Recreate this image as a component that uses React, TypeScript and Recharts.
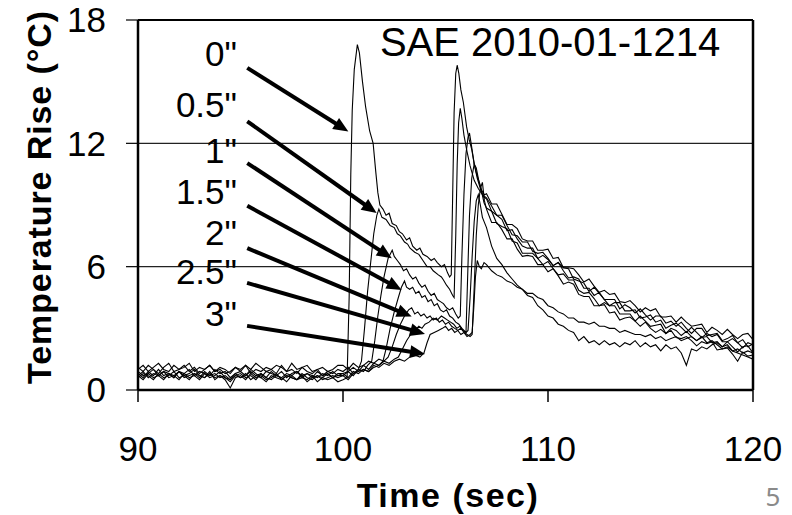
import React from 'react';
import {
  LineChart,
  Line,
  XAxis,
  YAxis,
  CartesianGrid,
  ReferenceLine,
  ReferenceDot,
} from 'recharts';

// distance of each thermocouple from the surface
const distances = ['0"', '0.5"', '1"', '1.5"', '2"', '2.5"', '3"'];

const xTicks = [90, 100, 110, 120];
const yTicks = [0, 6, 12, 18];

// pre-ignition baseline, shared sample times
const baseTimes = [
  90, 90.25, 90.5, 90.75, 91, 91.25, 91.5, 91.75, 92, 92.25,
  92.5, 92.75, 93, 93.25, 93.5, 93.75, 94, 94.25, 94.5, 94.75,
  95, 95.25, 95.5, 95.75, 96, 96.25, 96.5, 96.75, 97, 97.25,
  97.5, 97.75, 98, 98.25, 98.5, 98.75, 99, 99.25, 99.5, 99.75,
];

const base0 = [0.8,0.6,0.9,0.7,1.0,0.7,0.8,0.6,0.9,0.7,0.8,1.0,0.7,0.6,0.9,0.5,0.7,0.6,0.4,0.7,0.8,0.6,0.7,0.5,0.8,0.6,0.5,0.7,0.6,0.4,0.7,0.5,0.6,0.5,0.7,0.4,0.6,0.5,0.6,0.4];
const base1 = [1.1,0.9,1.2,1.0,0.8,1.1,1.3,0.9,1.0,1.2,0.9,1.1,0.8,1.0,1.2,0.9,1.0,0.8,0.9,1.1,1.0,1.2,0.8,1.0,0.9,1.1,1.0,0.8,1.2,0.9,1.0,0.8,1.1,0.9,0.8,1.0,0.7,0.9,0.8,1.0];
const base2 = [0.7,0.5,0.8,0.6,0.7,0.9,0.6,0.7,0.5,0.8,0.6,0.7,0.5,0.8,0.6,0.7,0.9,0.6,0.5,0.7,0.6,0.8,0.5,0.7,0.6,0.4,0.7,0.6,0.5,0.7,0.6,0.5,0.8,0.6,0.5,0.7,0.6,0.8,0.6,0.7];
const base3 = [0.6,0.8,0.7,0.5,0.8,0.6,0.7,0.9,0.6,0.7,0.5,0.8,0.7,0.6,0.8,0.6,0.7,0.5,0.1,0.6,0.7,0.5,0.8,0.6,0.7,0.5,0.6,0.8,0.5,0.7,0.6,0.5,0.7,0.4,0.6,0.7,0.5,0.6,0.7,0.6];
const base4 = [1.0,1.2,0.9,1.1,1.3,1.0,0.9,1.2,1.0,1.1,1.3,0.9,1.1,1.0,1.2,0.9,1.1,1.0,0.8,1.1,0.9,1.2,1.0,1.3,1.1,0.9,1.0,1.2,1.1,0.9,1.3,1.0,1.1,1.2,0.9,1.0,1.1,0.9,1.0,1.2];
const base5 = [0.9,0.7,0.8,1.0,0.7,0.9,0.8,0.6,0.9,0.8,1.0,0.7,0.9,0.8,0.7,1.0,0.8,0.9,0.6,0.8,0.9,0.7,1.0,0.8,0.6,0.9,0.8,0.7,0.9,0.6,0.8,0.9,0.7,0.8,0.6,0.9,0.7,0.8,0.6,0.8];
const base6 = [0.7,0.9,0.6,0.8,0.7,0.5,0.8,0.7,0.9,0.6,0.7,0.8,0.6,0.9,0.7,0.8,0.6,0.7,0.5,0.8,0.6,0.7,0.9,0.7,0.8,0.6,0.9,0.7,0.6,0.8,0.7,0.9,0.6,0.8,0.7,0.6,0.8,0.7,0.9,0.7];

// the two flame passages, 100 - 107 s  [time, rise]
const event0: [number, number][] = [[100,0.5],[100.2,0.6],[100.3,4.5],[100.38,10.5],[100.45,13.6],[100.55,15.6],[100.7,16.8],[100.8,16.4],[100.95,15.0],[101.1,13.8],[101.3,12.6],[101.47,12.0],[101.6,10.6],[101.7,9.6],[101.8,9.0],[101.95,8.8],[102.1,8.5],[102.25,8.6],[102.4,8.1],[102.6,8.0],[102.75,7.7],[102.9,7.6],[103.1,7.3],[103.25,7.4],[103.4,7.0],[103.6,6.8],[103.75,6.9],[103.9,6.6],[104.1,6.5],[104.3,6.3],[104.45,6.4],[104.6,6.2],[104.8,6.0],[104.95,6.1],[105.1,5.7],[105.2,5.5],[105.28,5.6],[105.35,9.5],[105.42,13.5],[105.5,15.4],[105.57,15.8],[105.65,15.4],[105.75,14.6],[105.87,14.0],[106.03,12.8],[106.15,12.2],[106.28,11.7],[106.4,11.0],[106.52,10.5],[106.65,10.1],[106.77,9.7],[106.9,9.5]];
const event1: [number, number][] = [[100,0.9],[100.25,1.1],[100.5,0.8],[100.75,1.0],[100.9,1.4],[101.05,3.0],[101.2,4.8],[101.35,6.2],[101.5,7.6],[101.65,8.5],[101.75,8.8],[101.9,8.4],[102.1,8.3],[102.3,8.0],[102.5,7.9],[102.65,7.6],[102.8,7.5],[103.0,7.2],[103.15,7.1],[103.27,6.9],[103.5,6.7],[103.7,6.6],[103.9,6.3],[104.1,6.0],[104.25,6.0],[104.4,5.8],[104.65,5.6],[104.8,5.5],[104.9,5.35],[105.05,5.1],[105.2,4.9],[105.35,4.6],[105.42,4.5],[105.5,7.5],[105.57,11.0],[105.64,13.0],[105.72,13.7],[105.8,13.2],[105.9,12.4],[106.05,11.6],[106.2,10.9],[106.4,10.2],[106.6,9.8],[106.8,9.5]];
const event2: [number, number][] = [[100,0.7],[100.25,0.9],[100.5,0.7],[100.75,1.0],[101.0,0.9],[101.2,1.2],[101.4,1.4],[101.55,2.4],[101.7,3.6],[101.85,4.6],[102.0,5.5],[102.2,6.4],[102.4,6.8],[102.5,6.5],[102.65,6.3],[102.8,6.1],[102.95,5.8],[103.1,5.9],[103.25,5.6],[103.4,5.4],[103.55,5.5],[103.7,5.2],[103.85,5.0],[104.0,5.1],[104.15,4.8],[104.3,4.6],[104.45,4.7],[104.6,4.4],[104.75,4.3],[104.9,4.2],[105.05,4.0],[105.2,3.9],[105.35,4.0],[105.5,3.7],[105.62,3.5],[105.72,3.6],[105.8,6.5],[105.9,9.5],[106.0,11.5],[106.1,12.3],[106.17,12.5],[106.25,12.0],[106.4,11.0],[106.55,10.3],[106.7,9.8],[106.85,9.4]];
const event3: [number, number][] = [[100,0.7],[100.25,0.5],[100.5,0.8],[100.75,0.9],[101.0,1.0],[101.25,0.9],[101.5,1.1],[101.75,1.2],[101.95,1.4],[102.1,2.0],[102.3,3.0],[102.5,3.8],[102.7,4.5],[102.85,5.0],[103.0,5.3],[103.1,5.0],[103.25,4.9],[103.4,5.0],[103.55,4.7],[103.7,4.8],[103.85,4.5],[104.0,4.6],[104.15,4.3],[104.3,4.4],[104.45,4.1],[104.6,4.2],[104.75,3.9],[104.9,3.8],[105.05,3.9],[105.2,3.6],[105.35,3.5],[105.5,3.3],[105.65,3.2],[105.8,3.0],[105.9,2.9],[106.0,2.8],[106.08,5.5],[106.17,8.5],[106.28,10.3],[106.4,11.0],[106.5,10.8],[106.62,10.2],[106.75,9.7],[106.88,9.1]];
const event4: [number, number][] = [[100,1.2],[100.25,1.0],[100.5,1.3],[100.75,1.1],[101.0,1.2],[101.25,1.4],[101.5,1.3],[101.75,1.5],[102.0,1.4],[102.2,1.6],[102.4,2.1],[102.6,2.7],[102.8,3.2],[103.0,3.6],[103.2,3.9],[103.35,4.0],[103.5,3.7],[103.65,3.8],[103.8,3.6],[103.95,3.7],[104.1,3.5],[104.25,3.6],[104.4,3.4],[104.55,3.5],[104.7,3.3],[104.85,3.4],[105.0,3.2],[105.15,3.3],[105.3,3.1],[105.45,3.0],[105.6,2.9],[105.75,3.0],[105.9,2.8],[106.05,2.7],[106.2,2.6],[106.3,2.7],[106.4,5.0],[106.5,7.5],[106.6,9.0],[106.7,9.8],[106.8,10.1],[106.9,9.2]];
const event5: [number, number][] = [[100,0.8],[100.25,0.9],[100.5,1.1],[100.75,0.9],[101.0,1.2],[101.25,1.0],[101.5,1.3],[101.75,1.2],[102.0,1.4],[102.25,1.3],[102.5,1.5],[102.7,1.6],[102.9,2.0],[103.1,2.4],[103.3,2.7],[103.5,2.9],[103.7,3.1],[103.85,3.0],[104.0,3.2],[104.2,3.3],[104.4,3.5],[104.6,3.4],[104.8,3.6],[104.95,3.5],[105.1,3.4],[105.25,3.3],[105.4,3.2],[105.55,3.0],[105.7,3.1],[105.85,2.9],[106.0,2.8],[106.1,2.9],[106.2,4.5],[106.3,6.5],[106.4,8.2],[106.5,9.2],[106.6,9.5],[106.7,9.0],[106.8,8.4]];
const event6: [number, number][] = [[100,0.8],[100.25,0.6],[100.5,0.9],[100.75,0.8],[101.0,1.0],[101.25,0.9],[101.5,1.2],[101.75,1.1],[102.0,1.3],[102.25,1.2],[102.5,1.4],[102.75,1.5],[103.0,1.4],[103.25,1.6],[103.5,1.7],[103.75,1.6],[103.95,1.8],[104.1,2.3],[104.25,2.7],[104.45,2.8],[104.65,2.9],[104.85,3.0],[105.0,3.1],[105.15,2.9],[105.3,3.0],[105.45,2.8],[105.6,2.9],[105.75,2.7],[105.9,2.8],[106.05,2.6],[106.2,2.7],[106.3,2.8],[106.38,4.0],[106.46,5.5],[106.55,6.3],[106.65,6.0],[106.75,5.9],[106.88,6.2]];

// cooling tail, shared sample times
const decayTimes = [
  107, 107.25, 107.5, 107.75, 108, 108.25, 108.5, 108.75, 109, 109.25,
  109.5, 109.75, 110, 110.25, 110.5, 110.75, 111, 111.25, 111.5, 111.75,
  112, 112.25, 112.5, 112.75, 113, 113.25, 113.5, 113.75, 114, 114.25,
  114.5, 114.75, 115, 115.25, 115.5, 115.75, 116, 116.25, 116.5, 116.75,
  117, 117.25, 117.5, 117.75, 118, 118.25, 118.5, 118.75, 119, 119.25,
  119.5, 119.75, 120,
];

const decay0 = [9.55,9.05,9.05,8.55,8.05,8.05,7.85,7.35,7.25,7.25,6.8,6.8,6.85,6.4,6.45,5.95,5.95,5.9,5.6,5.25,5.4,5.05,4.75,4.85,4.65,4.7,4.3,4.25,4.35,4.1,3.8,4.0,3.85,3.95,3.55,3.55,3.6,3.3,3.55,3.3,3.1,3.15,3.2,2.8,3.05,2.9,2.7,2.95,2.7,2.5,2.7,2.75,2.45];
const decay1 = [9.35,8.95,8.5,8.5,8.0,7.55,7.5,7.2,7.2,6.75,6.65,6.7,6.4,6.05,6.2,5.95,5.9,5.4,5.3,5.2,4.8,5.0,4.7,4.4,4.4,4.4,3.95,4.15,4.0,3.75,3.95,3.65,3.4,3.6,3.6,3.25,3.35,3.1,3.3,3.0,2.75,3.0,3.0,2.65,2.7,2.75,2.4,2.5,2.65,2.3,2.45,2.1,2.25];
const decay2 = [9.3,8.7,8.5,8.3,7.75,7.8,7.35,7.0,6.9,6.9,6.4,6.55,6.35,6.05,6.2,5.8,5.45,5.5,5.4,4.95,4.95,4.6,4.75,4.4,4.1,4.25,4.25,3.85,3.85,3.9,3.5,3.55,3.65,3.3,3.4,3.0,3.15,3.25,3.05,2.8,3.05,2.8,2.55,2.75,2.6,2.7,2.35,2.35,2.5,2.3,2.05,2.3,2.2];
const decay3 = [8.85,8.7,8.1,7.95,7.85,7.25,7.15,6.65,6.65,6.65,6.4,6.1,6.25,5.9,5.6,5.65,5.35,5.35,4.85,4.7,4.75,4.45,4.1,4.25,4.1,4.1,3.7,3.7,3.7,3.35,3.6,3.35,3.1,3.15,3.2,2.75,3.0,2.9,2.65,2.85,2.6,2.4,2.55,2.6,2.3,2.35,2.1,2.35,2.1,1.85,2.1,2.15,1.8];
const decay4 = [8.8,8.15,8.15,7.8,7.35,7.35,6.85,6.5,6.55,6.5,6.1,6.1,5.75,5.9,5.55,5.15,5.25,5.15,4.65,4.55,4.55,4.1,4.1,4.15,3.75,3.8,3.4,3.5,3.55,3.35,3.1,3.3,3.0,2.8,2.95,2.75,2.9,2.55,2.5,2.6,2.4,2.15,2.35,2.25,2.35,1.95,2.0,2.05,1.75,1.4,1.85,1.65,1.7];
const decay5 = [7.9,7.0,6.4,6.1,5.7,5.4,5.1,4.9,4.6,4.5,4.1,3.9,3.6,3.5,3.2,3.1,2.9,2.8,2.4,2.6,2.3,2.4,2.2,2.4,2.2,2.3,2.1,2.3,2.2,2.4,2.1,2.3,2.1,2.2,1.9,2.2,2.0,2.1,1.8,1.2,2.0,1.9,2.1,2.0,2.2,2.3,2.1,2.2,1.9,1.8,1.7,1.6,1.5];
const decay6 = [6.1,5.8,5.6,5.5,5.3,5.2,5.0,4.9,4.7,4.7,4.5,4.4,4.1,4.0,3.8,3.7,3.5,3.5,3.3,3.3,3.2,3.3,3.1,3.1,3.0,3.0,2.8,2.9,2.8,2.7,2.7,2.6,2.7,2.5,2.6,2.4,2.5,2.6,2.4,2.5,2.6,2.4,2.6,2.3,2.4,2.2,2.0,2.1,1.9,2.0,1.8,1.9,1.8];

// annotation arrows: [time, rise] of tail and tip
const arrowTails: [number, number][] = [[95.33,15.67],[95.33,13.07],[95.33,11.04],[95.33,8.96],[95.33,6.9],[95.32,5.21],[95.32,3.12]];
const arrowTips: [number, number][] = [[100.26,12.58],[101.64,8.61],[102.38,6.41],[102.86,4.87],[103.35,3.57],[104.0,2.73],[104.0,1.75]];
const labelTime = 94.83;
const labelRise = [16.39, 13.91, 11.64, 9.64, 7.65, 5.75, 3.75];

const build = (base: number[], event: [number, number][], decay: number[]) => [
  ...baseTimes.map((t, i) => ({ t, v: base[i] })),
  ...event.map(([t, v]) => ({ t, v })),
  ...decayTimes.map((t, i) => ({ t, v: decay[i] })),
];

const series = [
  build(base0, event0, decay0),
  build(base1, event1, decay1),
  build(base2, event2, decay2),
  build(base3, event3, decay3),
  build(base4, event4, decay4),
  build(base5, event5, decay5),
  build(base6, event6, decay6),
];

const FONT = '"Liberation Sans", Arial, sans-serif';

const Arrow = (p: any) => {
  const { x1, y1, x2, y2 } = p;
  if ([x1, y1, x2, y2].some((n) => typeof n !== 'number' || isNaN(n))) return null;
  const dx = x2 - x1;
  const dy = y2 - y1;
  const len = Math.sqrt(dx * dx + dy * dy);
  const ux = dx / len;
  const uy = dy / len;
  const head = 15;
  const half = 6.5;
  const bx = x2 - ux * head;
  const by = y2 - uy * head;
  return (
    <g>
      <line x1={x1} y1={y1} x2={bx + ux * 2} y2={by + uy * 2} stroke="#000" strokeWidth={4} />
      <polygon
        points={`${x2},${y2} ${bx - uy * half},${by + ux * half} ${bx + uy * half},${by - ux * half}`}
        fill="#000"
      />
    </g>
  );
};

const YTitle = () => (
  <text
    x={51}
    y={197}
    transform="rotate(-90 51 197)"
    textAnchor="middle"
    fontFamily={FONT}
    fontWeight="bold"
    fontSize={34}
    letterSpacing={0.9}
    fill="#000"
  >
    Temperature Rise (°C)
  </text>
);

const XTitle = () => (
  <g>
    <text
      x={448}
      y={507}
      textAnchor="middle"
      fontFamily={FONT}
      fontWeight="bold"
      fontSize={34}
      letterSpacing={1.5}
      fill="#000"
    >
      Time (sec)
    </text>
    <text x={773} y={506} textAnchor="middle" fontFamily='"Noto Sans", sans-serif' fontSize={26} fill="#8a8a8a">
      5
    </text>
  </g>
);

export default function App() {
  return (
    <div style={{ position: 'absolute', left: 0, top: 0, width: 792, height: 515, background: '#fff' }}>
      <LineChart width={792} height={515} margin={{ top: 20, right: 39, bottom: 0, left: 0 }}>
        <CartesianGrid vertical={false} stroke="#222" strokeWidth={1.2} />
        <XAxis
          type="number"
          dataKey="t"
          domain={[90, 120]}
          ticks={xTicks}
          allowDataOverflow
          height={125}
          tickSize={12}
          tickMargin={34}
          axisLine={{ stroke: '#000', strokeWidth: 2.5 }}
          tickLine={{ stroke: '#000', strokeWidth: 1.5 }}
          tick={{ fill: '#000', fontSize: 35, fontFamily: FONT }}
          label={{ content: XTitle }}
        />
        <YAxis
          type="number"
          domain={[0, 18]}
          ticks={yTicks}
          allowDataOverflow
          width={138}
          tickSize={12}
          tickMargin={20}
          axisLine={{ stroke: '#000', strokeWidth: 2.5 }}
          tickLine={{ stroke: '#000', strokeWidth: 1.2 }}
          tick={{ fill: '#000', fontSize: 35, fontFamily: FONT }}
          label={{ content: YTitle }}
        />
        <ReferenceLine y={18} stroke="#000" strokeWidth={2} />
        <ReferenceLine x={120} stroke="#000" strokeWidth={2.5} />
        {series.map((d, i) => (
          <Line
            key={distances[i]}
            data={d}
            dataKey="v"
            type="linear"
            dot={false}
            stroke="#000"
            strokeWidth={1.1}
            isAnimationActive={false}
          />
        ))}
        {distances.map((name, i) => (
          <ReferenceLine
            key={`arrow-${name}`}
            segment={[
              { x: arrowTails[i][0], y: arrowTails[i][1] },
              { x: arrowTips[i][0], y: arrowTips[i][1] },
            ]}
            shape={Arrow}
          />
        ))}
        {distances.map((name, i) => (
          <ReferenceDot
            key={`label-${name}`}
            x={labelTime}
            y={labelRise[i]}
            r={0}
            shape={(p: any) => (
              <text
                x={p.cx}
                y={p.cy}
                dy="0.36em"
                textAnchor="end"
                fontFamily={FONT}
                fontSize={35}
                fill="#000"
              >
                {name}
              </text>
            )}
          />
        ))}
        <ReferenceDot
          x={101.8}
          y={16.23}
          r={0}
          shape={(p: any) => (
            <text x={p.cx} y={p.cy} textAnchor="start" fontFamily={FONT} fontSize={40} fill="#000">
              SAE 2010-01-1214
            </text>
          )}
        />
      </LineChart>
    </div>
  );
}
